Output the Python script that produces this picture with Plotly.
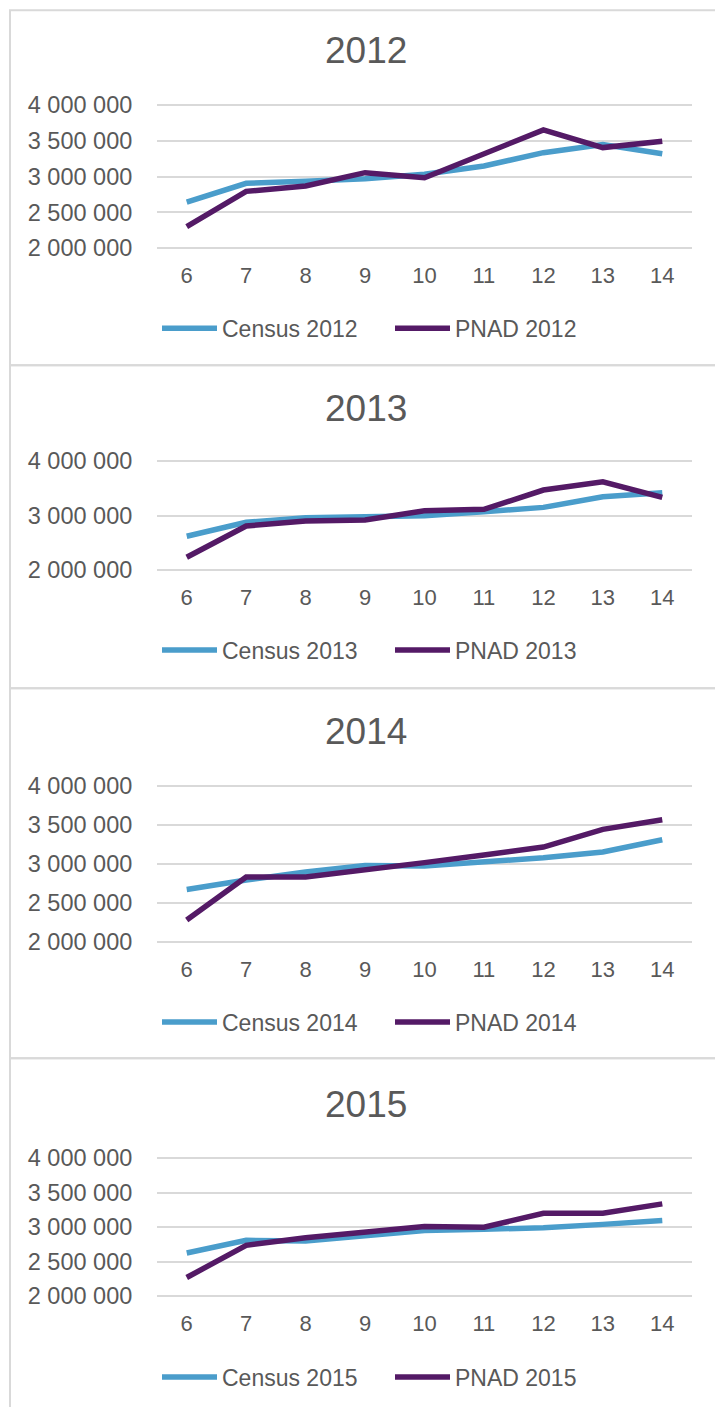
import plotly.graph_objects as go

W, H = 715, 1407
# observed mapping of the photographed page: shot_y = SHOT_OFF + SHOT_SCALE * fig_y
SHOT_OFF = 11.8
SHOT_SCALE = 0.983

ages = [6, 7, 8, 9, 10, 11, 12, 13, 14]
years = ["2012", "2013", "2014", "2015"]

census_2012 = [2645000, 2907000, 2935000, 2970000, 3033000, 3150000, 3336000, 3450000, 3320000]
pnad_2012 = [2300000, 2795000, 2870000, 3056000, 2986000, 3310000, 3654000, 3407000, 3495000]
census_2013 = [2622000, 2878000, 2963000, 2980000, 3000000, 3073000, 3152000, 3348000, 3420000]
pnad_2013 = [2238000, 2811000, 2902000, 2920000, 3090000, 3116000, 3470000, 3622000, 3335000]
census_2014 = [2668000, 2790000, 2894000, 2975000, 2970000, 3020000, 3075000, 3150000, 3306000]
pnad_2014 = [2277000, 2830000, 2830000, 2915000, 3013000, 3110000, 3213000, 3440000, 3562000]
census_2015 = [2625000, 2808000, 2800000, 2880000, 2952000, 2970000, 2990000, 3040000, 3096000]
pnad_2015 = [2270000, 2736000, 2846000, 2930000, 3010000, 3000000, 3200000, 3200000, 3337000]

yticks_half = [2000000, 2500000, 3000000, 3500000, 4000000]
yticks_half_text = ["2 000 000", "2 500 000", "3 000 000", "3 500 000", "4 000 000"]
yticks_full = [2000000, 3000000, 4000000]
yticks_full_text = ["2 000 000", "3 000 000", "4 000 000"]

census_series = [census_2012, census_2013, census_2014, census_2015]
pnad_series = [pnad_2012, pnad_2013, pnad_2014, pnad_2015]

CENSUS_COLOR = "#4a9dcb"
PNAD_COLOR = "#541a66"
TEXT_COLOR = "#595959"
GRID_COLOR = "#d9d9d9"
FONT = "Liberation Sans, Arial, sans-serif"


def py(target_y):
    """target pixel in the picture (from top) -> paper fraction"""
    fig_y = (target_y - SHOT_OFF) / SHOT_SCALE
    return 1 - fig_y / H


panels = [
    dict(top=105, bottom=248, title=50.5, legend=328, box=(10, 365), ticks="half"),
    dict(top=461, bottom=570, title=408, legend=650, box=(365, 688), ticks="full"),
    dict(top=785.5, bottom=941.5, title=731, legend=1022, box=(688, 1058), ticks="half"),
    dict(top=1158, bottom=1296, title=1104, legend=1377, box=(1058, 1440), ticks="half"),
]

x_left, x_right = 157, 692
pad = 20000

fig = go.Figure()
shapes = []
annotations = []
layout = {}

for i, p in enumerate(panels):
    n = "" if i == 0 else str(i + 1)
    ppu = (p["bottom"] - p["top"]) / 2000000.0
    top_px = p["top"] - pad * ppu
    bot_px = p["bottom"] + pad * ppu
    legend_name = "legend" + n

    fig.add_trace(go.Scatter(
        x=ages, y=census_series[i], mode="lines", name="Census " + years[i],
        line=dict(color=CENSUS_COLOR, width=5.5), xaxis="x" + n, yaxis="y" + n,
        legend=legend_name, hoverinfo="skip"))
    fig.add_trace(go.Scatter(
        x=ages, y=pnad_series[i], mode="lines", name="PNAD " + years[i],
        line=dict(color=PNAD_COLOR, width=5.5), xaxis="x" + n, yaxis="y" + n,
        legend=legend_name, hoverinfo="skip"))

    tv = yticks_half if p["ticks"] == "half" else yticks_full
    tt = yticks_half_text if p["ticks"] == "half" else yticks_full_text

    layout["xaxis" + n] = dict(
        domain=[x_left / W, x_right / W], range=[5.5, 14.5], anchor="y" + n,
        tickvals=ages, ticktext=[str(a) for a in ages], showgrid=False,
        zeroline=False, showline=False, ticks="outside", ticklen=6,
        tickcolor="rgba(0,0,0,0)", tickfont=dict(size=22, color=TEXT_COLOR, family=FONT),
        fixedrange=True)
    layout["yaxis" + n] = dict(
        domain=[py(bot_px), py(top_px)],
        range=[2000000 - pad, 4000000 + pad], anchor="x" + n,
        tickvals=tv, ticktext=tt, showgrid=True, gridcolor=GRID_COLOR, gridwidth=1.6,
        zeroline=False, showline=False, ticks="outside", ticklen=19,
        tickcolor="rgba(0,0,0,0)", tickfont=dict(size=23.5, color=TEXT_COLOR, family=FONT),
        fixedrange=True)
    layout[legend_name] = dict(
        orientation="h", x=157 / W, y=py(p["legend"]), xanchor="left", yanchor="middle",
        font=dict(size=23, color=TEXT_COLOR, family=FONT), bgcolor="rgba(0,0,0,0)",
        itemwidth=55, entrywidth=163, entrywidthmode="pixels",
        itemclick=False, itemdoubleclick=False)

    annotations.append(dict(
        text=years[i], x=366 / W, y=py(p["title"]), xref="paper", yref="paper",
        xanchor="center", yanchor="middle", showarrow=False,
        font=dict(size=37, color=TEXT_COLOR, family=FONT)))

    b0, b1 = p["box"]
    shapes.append(dict(
        type="rect", xref="paper", yref="paper", x0=10 / W, x1=1.03,
        y0=py(b1), y1=py(b0), line=dict(color=GRID_COLOR, width=2),
        fillcolor="rgba(0,0,0,0)", layer="below"))

fig.update_layout(
    width=W, height=H, margin=dict(l=0, r=0, t=0, b=0),
    paper_bgcolor="white", plot_bgcolor="white",
    font=dict(family=FONT, color=TEXT_COLOR),
    shapes=shapes, annotations=annotations, showlegend=True,
    **layout)

fig.write_html("out.html", post_script="document.body.style.margin='0';",
               config={"displayModeBar": False})
